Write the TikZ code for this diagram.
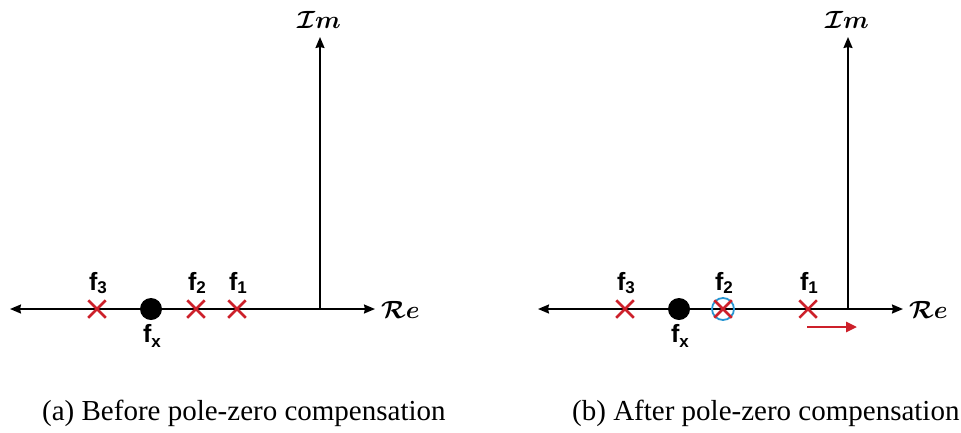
\documentclass[tikz,border=0pt]{standalone}
\usepackage{fontspec}
\usepackage{amsmath}
\usepackage{bm}
\setmainfont{Liberation Serif}
\newfontfamily\labfont{Liberation Sans}
\usetikzlibrary{shapes.misc,arrows.meta}
\definecolor{polered}{RGB}{205,32,42}
\definecolor{zeroblue}{RGB}{40,150,210}
\newcommand{\fsub}[3]{#1\raisebox{#3}{\fontsize{17}{17}\selectfont #2}}
\begin{document}
\begin{tikzpicture}[x=1pt,y=-1pt,
  axis/.style={line width=1.8pt},
  tip/.style={-{Stealth[length=11pt,width=9pt,inset=1pt]}},
  bothtip/.style={{Stealth[length=11pt,width=9pt,inset=1pt]}-{Stealth[length=11pt,width=9pt,inset=1pt]}},
  pole/.style={cross out, draw=polered, line width=2.5pt, minimum size=15pt, inner sep=0pt},
  zero/.style={circle, draw=zeroblue, line width=1.8pt, minimum size=22pt, inner sep=0pt},
  dotnode/.style={circle, fill=black, minimum size=22pt, inner sep=0pt},
  flabel/.style={font=\labfont\bfseries\fontsize{25}{28}\selectfont, anchor=base, inner sep=0pt},
  axlabel/.style={font=\fontsize{28}{30}\selectfont\boldmath, inner sep=0pt},
  caption/.style={font=\fontsize{29}{34}\selectfont, anchor=base west, inner sep=0pt}
]
\path[use as bounding box] (0,0) rectangle (961,432);

% ---------- panel (a) ----------
\coordinate (aL) at (10,309);
\coordinate (aR) at (375,309);
\coordinate (aO) at (320,309);
\coordinate (aT) at (320,37);
\draw[axis,bothtip] (aL) -- (aR);
\draw[axis,tip] (aO) -- (aT);
\node[axlabel, anchor=base] (aIm) at (319,28) {$\mathcal{I}m$};
\node[axlabel, anchor=base west] (aRe) at (381,318) {$\mathcal{R}e$};

\node[pole] (af3) at (97,309) {};
\node[dotnode] (afx) at (151,309) {};
\node[pole] (af2) at (196,309) {};
\node[pole] (af1) at (237,309) {};

\node[flabel] (lf3) at (98,290) {\fsub{f}{3}{-3pt}};
\node[flabel] (lf2) at (197,290) {\fsub{f}{2}{-3pt}};
\node[flabel] (lf1) at (238,290) {\fsub{f}{1}{-3pt}};
\node[flabel] (lfx) at (152,342) {\fsub{f}{x}{-5pt}};

\node[caption] (capa) at (42,420) {(a) Before pole-zero compensation};

% ---------- panel (b) ----------
\coordinate (bL) at (538,309);
\coordinate (bR) at (903,309);
\coordinate (bO) at (848,309);
\coordinate (bT) at (848,37);
\draw[axis,bothtip] (bL) -- (bR);
\draw[axis,tip] (bO) -- (bT);
\node[axlabel, anchor=base] (bIm) at (847,28) {$\mathcal{I}m$};
\node[axlabel, anchor=base west] (bRe) at (909,318) {$\mathcal{R}e$};

\node[pole] (bf3) at (625,309) {};
\node[dotnode] (bfx) at (679,309) {};
\node[zero] (bz) at (723,309) {};
\node[pole] (bf2) at (723,309) {};
\node[pole] (bf1) at (808,309) {};

\node[flabel] (mf3) at (626,290) {\fsub{f}{3}{-3pt}};
\node[flabel] (mf2) at (724,290) {\fsub{f}{2}{-3pt}};
\node[flabel] (mf1) at (809,290) {\fsub{f}{1}{-3pt}};
\node[flabel] (mfx) at (680,342) {\fsub{f}{x}{-5pt}};

\coordinate (arS) at (807,327);
\coordinate (arE) at (857,327);
\draw[line width=2.6pt, polered, -{Triangle[length=11pt,width=10pt]}] (arS) -- (arE);

\node[caption] (capb) at (572,420) {(b) After pole-zero compensation};
\end{tikzpicture}
\end{document}
